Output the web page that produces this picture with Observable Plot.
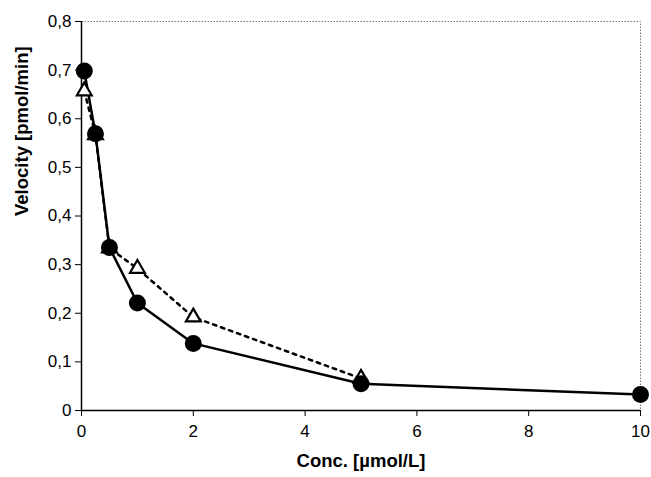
<!DOCTYPE html>
<html><head><meta charset="utf-8">
<script src="https://cdn.jsdelivr.net/npm/d3@7"></script>
<script src="https://cdn.jsdelivr.net/npm/@observablehq/plot@0.6"></script>
<style>body{margin:0;background:#fff}</style>
</head><body><div id="chart"></div>
<script>
const concCircles = [0.05, 0.25, 0.5, 1, 2, 5, 10];
const velCircles = [0.698, 0.569, 0.335, 0.221, 0.138, 0.055, 0.033];
const concTriangles = [0.05, 0.25, 0.5, 1, 2, 5];
const velTriangles = [0.657, 0.567, 0.334, 0.292, 0.192, 0.066];
const xTicks = [0, 2, 4, 6, 8, 10];
const yTicks = [0, 0.1, 0.2, 0.3, 0.4, 0.5, 0.6, 0.7, 0.8];
const xTitle = "Conc. [µmol/L]";
const yTitle = "Velocity [pmol/min]";

const circles = concCircles.map((c, i) => ({c, v: velCircles[i]}));
const triangles = concTriangles.map((c, i) => ({c, v: velTriangles[i]}));
const fmt = d => d === 0 ? "0" : String(d).replace(".", ",");
const font = "'Liberation Sans', Arial, sans-serif";

const chart = Plot.plot({
  width: 651, height: 477,
  marginLeft: 81, marginRight: 11, marginTop: 21, marginBottom: 67,
  style: {fontFamily: font, background: "#fff", color: "#000"},
  x: {domain: [0, 10]},
  y: {domain: [0, 0.8]},
  marks: [
    Plot.frame({stroke: "#777", strokeDasharray: "1.5,1.5", strokeWidth: 1}),
    Plot.ruleX([0], {stroke: "#000", strokeWidth: 1.5}),
    Plot.ruleY([0], {stroke: "#000", strokeWidth: 1.5}),
    Plot.axisX({ticks: xTicks, tickFormat: fmt, tickSize: 6, tickPadding: 8, fontSize: 17, label: null}),
    Plot.axisY({ticks: yTicks, tickFormat: fmt, tickSize: 6, tickPadding: 4, fontSize: 17, label: null}),
    Plot.text([xTitle], {frameAnchor: "bottom", dy: 56, fontSize: 18.5, fontWeight: "bold", fontFamily: font}),
    Plot.text([yTitle], {frameAnchor: "left", rotate: -90, dx: -59, fontSize: 18.5, fontWeight: "bold", fontFamily: font}),
    Plot.line(triangles, {x: "c", y: "v", stroke: "#000", strokeWidth: 2.5, strokeDasharray: "3.5,5"}),
    Plot.line(circles, {x: "c", y: "v", stroke: "#000", strokeWidth: 2.5}),
    Plot.dot(triangles, {x: "c", y: "v", symbol: "triangle", r: 5.5, stroke: "#000", strokeWidth: 2.2, fill: "#fff"}),
    Plot.dot(circles, {x: "c", y: "v", symbol: "circle", r: 8.5, fill: "#000", stroke: "none"})
  ]
});
document.getElementById("chart").appendChild(chart);
</script>
</body></html>
